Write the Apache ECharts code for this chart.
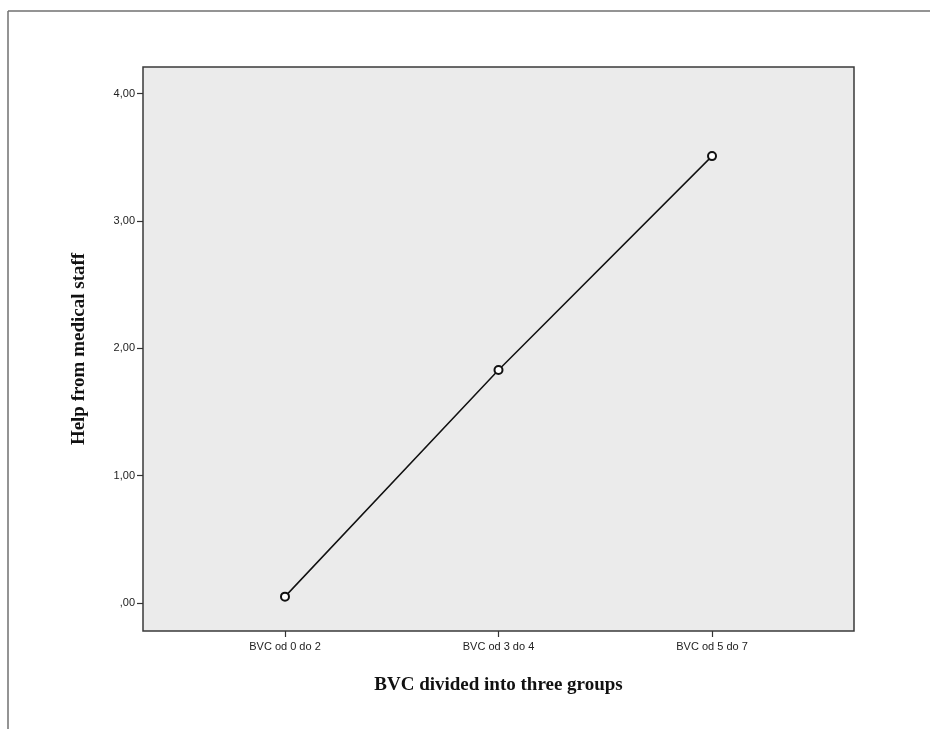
<!DOCTYPE html>
<html>
<head>
<meta charset="utf-8">
<script src="https://cdn.jsdelivr.net/npm/echarts@6/dist/echarts.min.js"></script>
<style>html,body{margin:0;padding:0;background:#fff;}#c{width:930px;height:729px;}</style>
</head>
<body>
<div id="c"></div>
<script>
var categories = ['BVC od 0 do 2', 'BVC od 3 do 4', 'BVC od 5 do 7'];
var values = [0.05, 1.83, 3.51];
var yTicks = [0, 1, 2, 3, 4];
var xTitle = 'BVC divided into three groups';
var yTitle = 'Help from medical staff';

function fmtY(v) {
  var s = v.toFixed(2).replace('.', ',');
  if (s.indexOf('0,') === 0) s = s.substring(1);
  return s;
}

var chart = echarts.init(document.getElementById('c'));
var catIdx = categories.map(function (c, i) { return i; });
chart.setOption({
  animation: false,
  backgroundColor: '#ffffff',
  grid: { left: 143, top: 67, width: 711, height: 564, show: true, backgroundColor: '#ebebeb', borderColor: '#3a3a3a', borderWidth: 1.5 },
  xAxis: {
    type: 'value', min: -0.665, max: 2.665, position: 'bottom',
    name: xTitle, nameLocation: 'middle', nameGap: 45,
    nameTextStyle: { fontFamily: 'Liberation Serif', fontWeight: 'bold', fontSize: 19, color: '#111' },
    axisLine: { show: false, onZero: false },
    splitLine: { show: false },
    axisTick: { show: true, length: 6, customValues: catIdx, lineStyle: { color: '#333', width: 1.2 } },
    axisLabel: { customValues: catIdx, margin: 10, fontFamily: 'Liberation Sans', fontSize: 11, color: '#222',
      formatter: function (v) { return categories[Math.round(v)]; } }
  },
  yAxis: {
    type: 'value', min: -0.22, max: 4.21, position: 'left',
    name: yTitle, nameLocation: 'middle', nameGap: 54, nameRotate: 90,
    nameTextStyle: { fontFamily: 'Liberation Serif', fontWeight: 'bold', fontSize: 19, color: '#111' },
    axisLine: { show: false, onZero: false },
    splitLine: { show: false },
    axisTick: { show: true, length: 6, customValues: yTicks, lineStyle: { color: '#333', width: 1.2 } },
    axisLabel: { customValues: yTicks, margin: 8, fontFamily: 'Liberation Sans', fontSize: 11, color: '#222',
      formatter: function (v) { return fmtY(v); } }
  },
  series: [{
    type: 'line',
    data: values.map(function (v, i) { return [i, v]; }),
    symbol: 'emptyCircle', symbolSize: 8,
    lineStyle: { color: '#111', width: 1.5 },
    itemStyle: { color: '#111', borderColor: '#111', borderWidth: 1.5 }
  }],
  graphic: [
    { type: 'line', shape: { x1: 8, y1: 11, x2: 930, y2: 11 }, style: { stroke: '#707070', lineWidth: 1.5 } },
    { type: 'line', shape: { x1: 8, y1: 11, x2: 8, y2: 729 }, style: { stroke: '#707070', lineWidth: 1.5 } }
  ]
});
</script>
</body>
</html>
